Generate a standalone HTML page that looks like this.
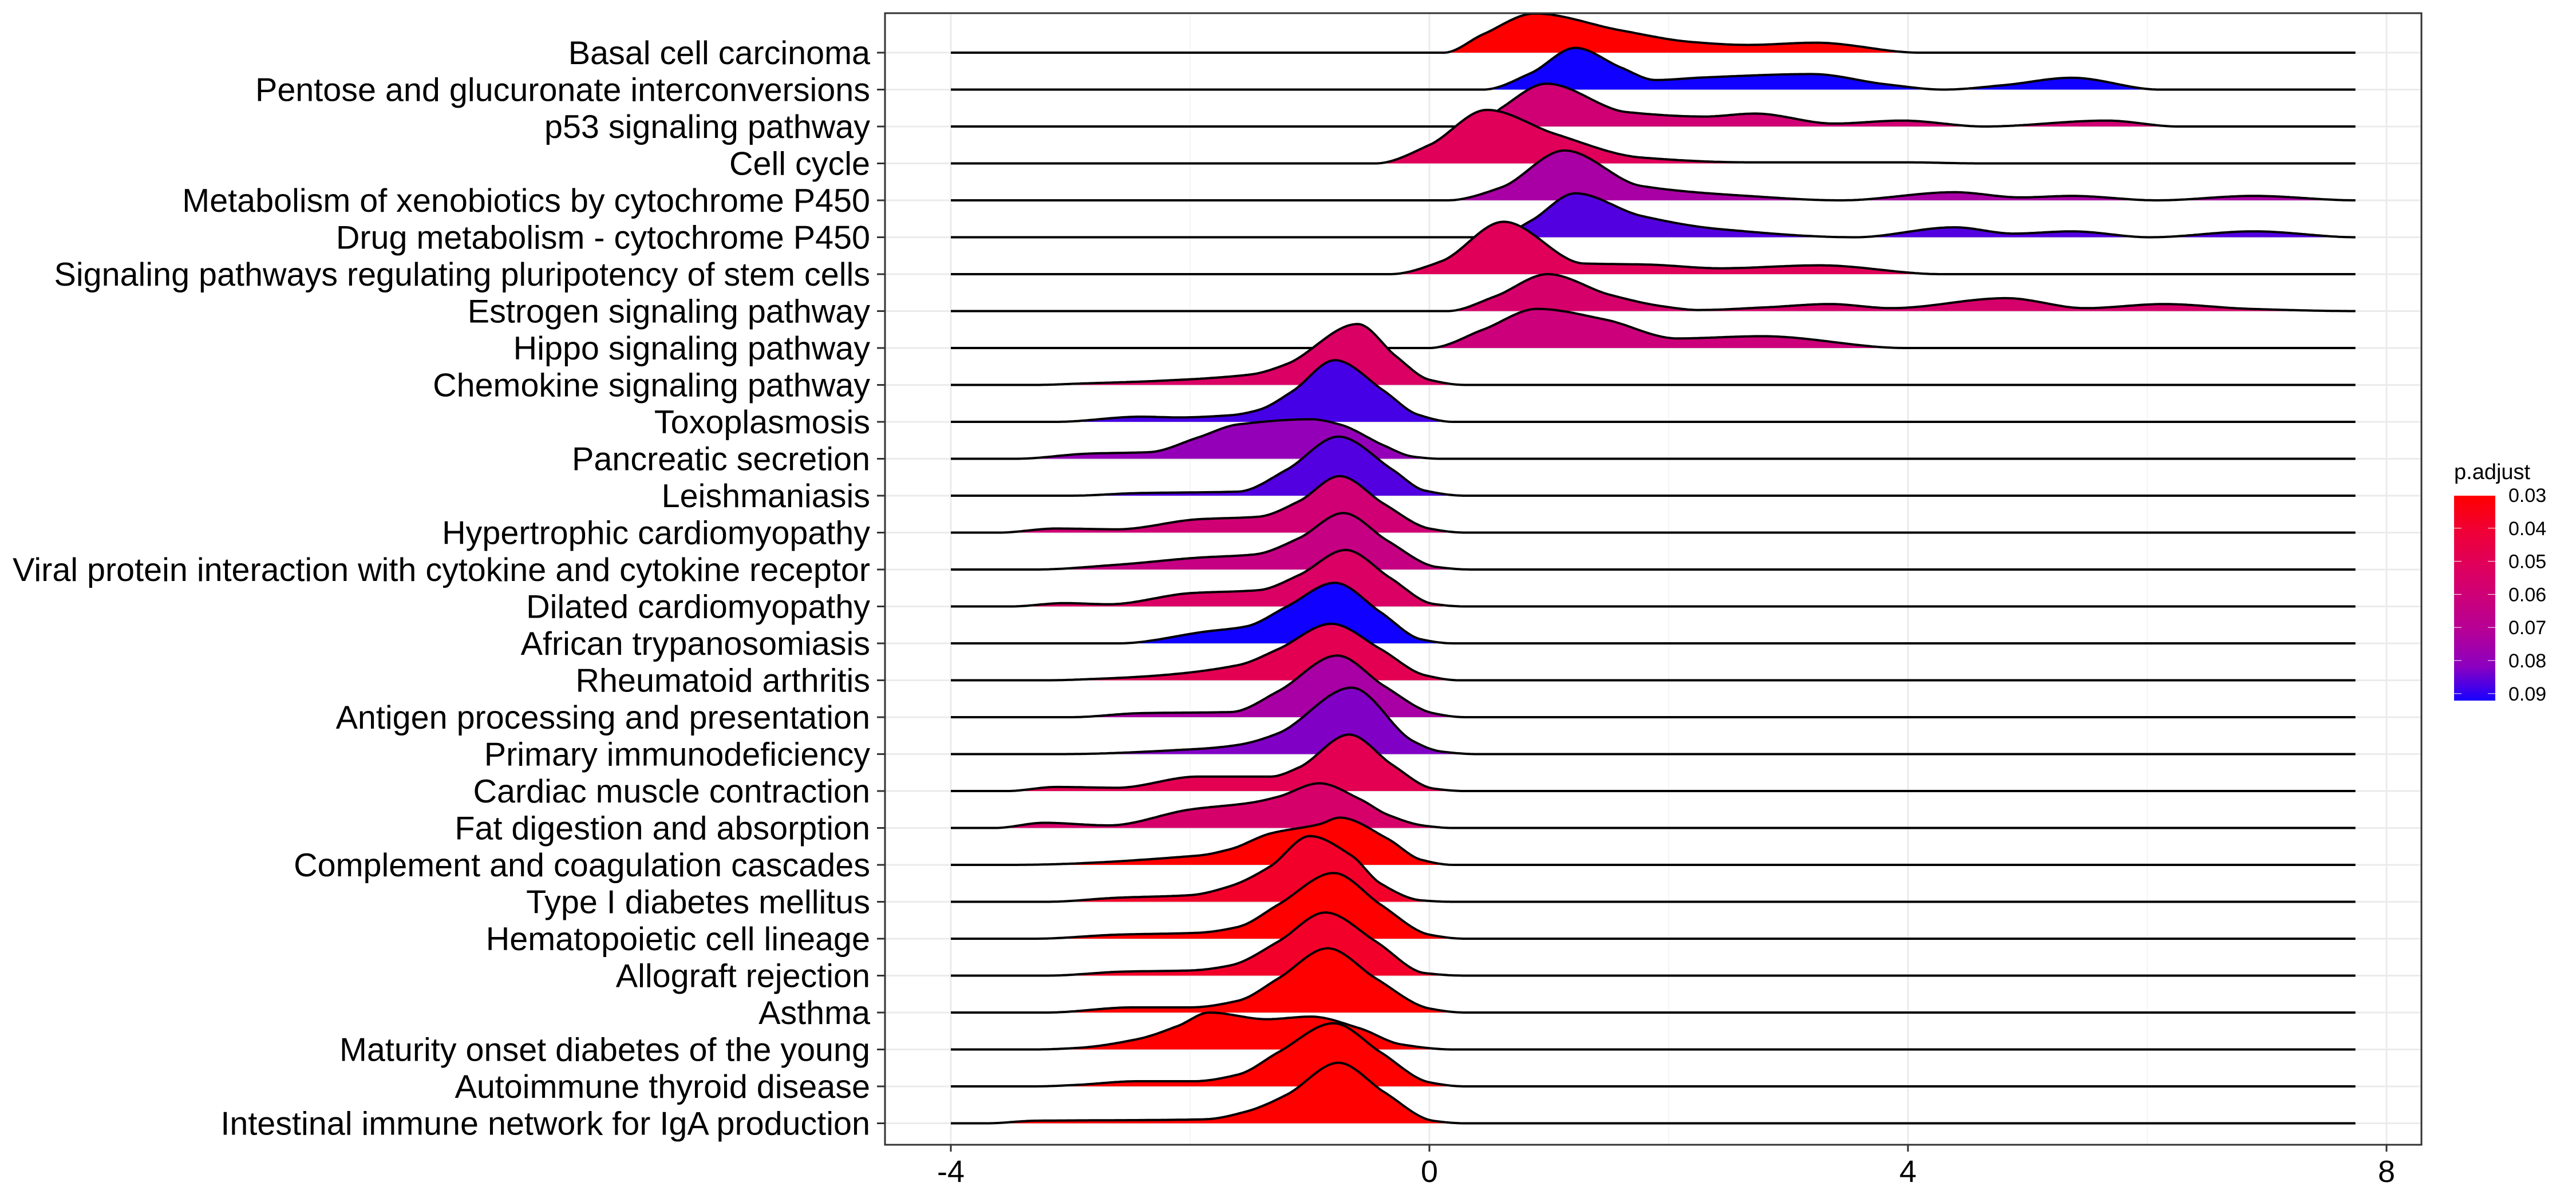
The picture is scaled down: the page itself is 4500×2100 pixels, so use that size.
<!DOCTYPE html>
<html><head><meta charset="utf-8"><style>
html,body{margin:0;padding:0;background:#fff;width:4500px;height:2100px;overflow:hidden}
svg{display:block}
text{font-family:"Liberation Sans",Arial,sans-serif}
</style></head><body>
<svg id="chart" width="4500" height="2100" viewBox="0 0 4500 2100" xmlns="http://www.w3.org/2000/svg">
<defs><linearGradient id="legGrad" x1="0" y1="0" x2="0" y2="1">
<stop offset="0" stop-color="#FF0000"/><stop offset="0.1667" stop-color="#F00034"/><stop offset="0.3333" stop-color="#E0005A"/><stop offset="0.5" stop-color="#CC007A"/><stop offset="0.6667" stop-color="#B40098"/><stop offset="0.8333" stop-color="#8C00C0"/><stop offset="1" stop-color="#1800FF"/>
</linearGradient></defs>
<g id="grid"></g>
<g id="ridges"></g>
<rect x="1546" y="23" width="2684" height="1977" fill="none" stroke="#333" stroke-width="3"/>
<g id="axes"></g>
<g id="legend">
<text x="4287" y="837" font-size="38">p.adjust</text>
<rect x="4287" y="866" width="72" height="358" fill="url(#legGrad)"/>
</g>
</svg>
<script>
const categories = ["Basal cell carcinoma","Pentose and glucuronate interconversions","p53 signaling pathway","Cell cycle","Metabolism of xenobiotics by cytochrome P450","Drug metabolism - cytochrome P450","Signaling pathways regulating pluripotency of stem cells","Estrogen signaling pathway","Hippo signaling pathway","Chemokine signaling pathway","Toxoplasmosis","Pancreatic secretion","Leishmaniasis","Hypertrophic cardiomyopathy","Viral protein interaction with cytokine and cytokine receptor","Dilated cardiomyopathy","African trypanosomiasis","Rheumatoid arthritis","Antigen processing and presentation","Primary immunodeficiency","Cardiac muscle contraction","Fat digestion and absorption","Complement and coagulation cascades","Type I diabetes mellitus","Hematopoietic cell lineage","Allograft rejection","Asthma","Maturity onset diabetes of the young","Autoimmune thyroid disease","Intestinal immune network for IgA production"];
const pAdjust = [0.03,0.091,0.058,0.05,0.073,0.085,0.05,0.055,0.06,0.053,0.086,0.078,0.085,0.058,0.063,0.053,0.091,0.048,0.073,0.081,0.048,0.055,0.03,0.038,0.03,0.038,0.03,0.03,0.03,0.03];
const densX = [
[0.12,0.45,0.88,1.59,2.19,2.66,3.23,4.1],
[0.45,0.85,1.22,1.6,1.89,2.3,3.2,3.8,4.3,4.8,5.37,6.1],
[0.4,0.6,0.98,1.65,2.3,2.72,3.38,3.95,4.64,5.66,6.26],
[-0.45,0.0,0.48,1.05,1.77,2.66,3.98,4.6],
[0.15,0.6,1.13,1.77,2.66,3.44,4.39,4.94,5.37,6.08,6.89,7.75],
[0.55,0.85,1.22,1.77,2.43,3.56,4.39,4.88,5.37,6.02,6.89,7.75],
[-0.33,0.1,0.62,1.29,1.83,2.43,3.26,4.28],
[0.15,0.55,0.99,1.5,1.95,2.25,2.8,3.35,3.86,4.82,5.48,6.14,6.86,7.75],
[0.0,0.45,0.9,1.47,2.07,2.78,3.98],
[-3.3,-2.9,-2.27,-1.5,-1.19,-0.6,-0.28,0,0.3],
[-3.12,-2.41,-2.1,-1.66,-1.43,-1.14,-0.79,-0.38,-0.1,0.2],
[-3.46,-2.85,-2.34,-1.94,-1.6,-0.99,-0.75,-0.38,-0.14,0.1],
[-3.0,-2.44,-1.6,-1.19,-0.76,-0.31,-0.04,0.3],
[-3.6,-3.12,-2.61,-1.94,-1.43,-1.09,-0.75,-0.38,0,0.3],
[-3.3,-2.61,-1.94,-1.46,-1.09,-0.72,-0.35,0.06,0.35],
[-3.5,-3.05,-2.68,-2.0,-1.43,-1.09,-0.7,-0.33,0.03,0.3],
[-2.6,-1.87,-1.53,-1.19,-0.79,-0.41,-0.07,0.2],
[-3.2,-2.78,-2.27,-1.6,-1.26,-0.82,-0.41,-0.04,0.25],
[-3.0,-2.41,-1.66,-1.26,-0.77,-0.38,0.03,0.3],
[-3.09,-1.94,-1.6,-1.26,-0.65,-0.14,0.1,0.4],
[-3.53,-3.12,-2.61,-1.94,-1.33,-1.09,-0.67,-0.31,0.03,0.3],
[-3.63,-3.22,-2.68,-2.0,-1.5,-1.26,-0.92,-0.58,-0.35,-0.04,0.2],
[-3.5,-1.94,-1.66,-1.33,-0.92,-0.75,-0.35,-0.07,0.2],
[-3.2,-2.61,-2.0,-1.66,-1.33,-1.0,-0.65,-0.41,-0.07,0.2],
[-3.3,-2.61,-1.94,-1.6,-1.26,-0.8,-0.41,0,0.3],
[-3.2,-2.55,-2.0,-1.66,-1.26,-0.87,-0.45,-0.04,0.3],
[-3.2,-2.48,-2.0,-1.6,-1.26,-0.85,-0.45,0,0.3],
[-3.3,-2.95,-2.44,-2.1,-1.84,-1.36,-0.99,-0.58,-0.24,0.2],
[-3.3,-2.95,-2.44,-1.97,-1.6,-1.26,-0.8,-0.41,0,0.3],
[-3.7,-3.29,-2.27,-1.87,-1.53,-1.19,-0.76,-0.38,0.03,0.3]
];
const densH = [
[0,0.5,1.06,0.61,0.29,0.21,0.27,0],
[0,0.45,1.13,0.6,0.26,0.33,0.42,0.15,0,0.12,0.32,0],
[0,0.5,1.16,0.39,0.27,0.35,0.08,0.16,0,0.16,0],
[0,0.5,1.45,0.8,0.16,0.03,0.03,0],
[0,0.35,1.35,0.39,0.12,0,0.22,0.08,0.12,0,0.12,0],
[0,0.45,1.19,0.58,0.22,0,0.27,0.1,0.16,0,0.16,0],
[0,0.35,1.42,0.29,0.26,0.16,0.24,0],
[0,0.4,1.0,0.45,0.13,0.03,0.1,0.19,0.08,0.35,0.08,0.19,0.06,0],
[0,0.5,1.06,0.77,0.26,0.32,0],
[0,0.04,0.11,0.28,0.57,1.65,0.78,0.14,0],
[0,0.14,0.12,0.18,0.32,0.84,1.67,0.84,0.2,0],
[0,0.14,0.18,0.57,0.93,1.07,0.93,0.36,0.06,0],
[0,0.07,0.11,0.71,1.6,0.71,0.14,0],
[0,0.11,0.09,0.36,0.43,0.85,1.53,0.78,0.11,0],
[0,0.13,0.32,0.41,0.85,1.53,0.78,0.07,0],
[0,0.09,0.06,0.36,0.44,0.85,1.53,0.78,0.07,0],
[0,0.32,0.46,1.0,1.64,0.85,0.11,0],
[0,0.04,0.13,0.41,0.85,1.53,0.85,0.14,0],
[0,0.11,0.14,0.71,1.67,0.85,0.11,0],
[0,0.14,0.25,0.57,1.8,0.36,0.07,0],
[0,0.11,0.09,0.39,0.39,0.64,1.53,0.71,0.07,0],
[0,0.14,0.07,0.5,0.68,0.85,1.21,0.78,0.36,0.06,0],
[0,0.25,0.43,0.85,1.1,1.28,0.71,0.14,0],
[0,0.11,0.18,0.43,0.96,1.78,1.25,0.5,0.04,0],
[0,0.11,0.16,0.32,0.93,1.78,0.93,0.11,0],
[0,0.11,0.14,0.28,0.93,1.71,0.93,0.07,0],
[0,0.14,0.14,0.32,0.93,1.74,0.93,0.11,0],
[0,0.04,0.28,0.64,1.0,0.82,0.89,0.57,0.14,0],
[0,0.04,0.14,0.14,0.32,0.93,1.71,0.93,0.11,0],
[0,0.07,0.09,0.11,0.32,0.78,1.64,0.85,0.07,0]
];
const xTicks = [-4,0,4,8];
const xMinor = [-2,2,6];
const legendTicks = [0.03,0.04,0.05,0.06,0.07,0.08,0.09];
const xRange = [-4, 7.75];

const NS = "http://www.w3.org/2000/svg";
const X0 = 2497, XU = 209, Y0 = 92, ROW = 64.5;
const PL = 1546, PR = 4230, PT = 23, PB = 2000;
function xs(v){ return X0 + XU*v; }
function yRow(i){ return Y0 + ROW*i; }
function mk(tag, attrs, parent){ const e=document.createElementNS(NS,tag); for(const k in attrs) e.setAttribute(k,attrs[k]); parent.appendChild(e); return e; }
const stops=[[0.03,[255,0,0]],[0.04,[240,0,52]],[0.05,[224,0,90]],[0.06,[204,0,122]],[0.07,[180,0,152]],[0.08,[140,0,192]],[0.09,[24,0,255]]];
function colorOf(p){
  if(p<=stops[0][0]) return "rgb("+stops[0][1]+")";
  for(let i=1;i<stops.length;i++){ if(p<=stops[i][0]){ const t=(p-stops[i-1][0])/(stops[i][0]-stops[i-1][0]); const a=stops[i-1][1],b=stops[i][1]; return "rgb("+a.map((v,k)=>Math.round(v+(b[k]-v)*t)).join(",")+")"; } }
  return "rgb(16,0,255)";
}
function monotone(xa, ya){
  const n=xa.length, d=[], m=new Array(n);
  for(let i=0;i<n-1;i++) d.push((ya[i+1]-ya[i])/(xa[i+1]-xa[i]));
  m[0]=0; m[n-1]=0;
  for(let i=1;i<n-1;i++){ m[i]=(d[i-1]*d[i]<=0)?0:(2/(1/d[i-1]+1/d[i])); }
  return function(x){
    if(x<=xa[0]||x>=xa[n-1]) return 0;
    let i=0; while(x>xa[i+1]) i++;
    const h=xa[i+1]-xa[i], t=(x-xa[i])/h, t2=t*t, t3=t2*t;
    return Math.max(0,(2*t3-3*t2+1)*ya[i]+(t3-2*t2+t)*h*m[i]+(-2*t3+3*t2)*ya[i+1]+(t3-t2)*h*m[i+1]);
  };
}
const grid=document.getElementById("grid");
xMinor.forEach(v=>{ const l=mk("line",{x1:xs(v),x2:xs(v),y1:PT,y2:PB,stroke:"#F2F2F2","stroke-width":1.5},grid);
  });
xTicks.forEach(v=>{ const l=mk("line",{x1:xs(v),x2:xs(v),y1:PT,y2:PB,stroke:"#EBEBEB","stroke-width":3},grid);
  });
categories.forEach((c,i)=>{ const l=mk("line",{x1:PL,x2:PR,y1:yRow(i),y2:yRow(i),stroke:"#EBEBEB","stroke-width":3},grid);
  });

const ridges=document.getElementById("ridges");
categories.forEach((c,i)=>{
  const f=monotone(densX[i],densH[i]); const base=yRow(i);
  let pts=[];
  for(let x=xRange[0]; x<=xRange[1]+1e-9; x+=0.02){ pts.push([xs(x), base - f(x)*ROW]); }
  const line=pts.map((p,k)=>(k?"L":"M")+p[0].toFixed(1)+","+p[1].toFixed(1)).join("");
  const area=line+"L"+xs(xRange[1]).toFixed(1)+","+base+"L"+xs(xRange[0]).toFixed(1)+","+base+"Z";
  const g=mk("g",{},ridges);
  
  
  const a=mk("path",{d:area,fill:colorOf(pAdjust[i]),stroke:"none"},g);
  
  
  const o=mk("path",{d:line,fill:"none",stroke:"#000","stroke-width":4,"stroke-linejoin":"round"},g);
  
  
});

const axes=document.getElementById("axes");
categories.forEach((c,i)=>{
  const t=mk("line",{x1:1532,x2:PL,y1:yRow(i),y2:yRow(i),stroke:"#333","stroke-width":3},axes);
   
  const tx=mk("text",{x:1520,y:yRow(i)+20,"font-size":57.5,"text-anchor":"end",fill:"#000"},axes);
  tx.textContent=c;
   
});
xTicks.forEach(v=>{
  const t=mk("line",{x1:xs(v),x2:xs(v),y1:PB,y2:2012,stroke:"#333","stroke-width":3},axes);
   
  const tx=mk("text",{x:xs(v),y:2065,"font-size":54,"text-anchor":"middle",fill:"#000"},axes);
  tx.textContent=String(v);
   
});
const leg=document.getElementById("legend");
legendTicks.forEach(v=>{
  const y=865+(v-0.03)/0.01*57.8;
  const t1=mk("line",{x1:4287,x2:4300,y1:y,y2:y,stroke:"#fff","stroke-width":1},leg);
   
  const t2=mk("line",{x1:4346,x2:4359,y1:y,y2:y,stroke:"#fff","stroke-width":1},leg);
   
  const tx=mk("text",{x:4382,y:y+12,"font-size":34,fill:"#000"},leg);
  tx.textContent=v.toFixed(2);
   
});
</script>
</body></html>
